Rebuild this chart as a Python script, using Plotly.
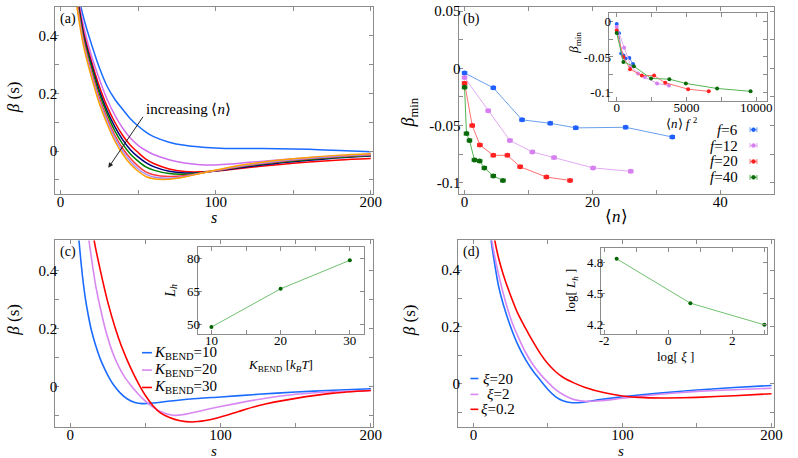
import plotly.graph_objects as go

W, H = 798, 458
SERIF = "Liberation Serif"
FRAME = "#8c8c8c"

# ---------------- panel (a) data ----------------
s_a = [10, 12, 15, 20, 25, 30, 35, 40, 45, 50, 55, 60, 70, 80, 90, 100, 110, 120, 140, 160, 180, 200]
a_blue = [0.60, 0.53, 0.46, 0.37, 0.29, 0.225, 0.18, 0.145, 0.112, 0.087, 0.066, 0.050, 0.031, 0.020, 0.014, 0.011, 0.009, 0.009, 0.008, 0.006, 0.002, -0.002]
a_violet = [0.58, 0.51, 0.43, 0.33, 0.25, 0.18, 0.125, 0.08, 0.045, 0.02, 0.002, -0.012, -0.030, -0.041, -0.047, -0.048, -0.045, -0.040, -0.031, -0.023, -0.016, -0.011]
a_red = [0.57, 0.50, 0.41, 0.31, 0.225, 0.155, 0.10, 0.055, 0.02, -0.005, -0.028, -0.043, -0.062, -0.071, -0.072, -0.069, -0.064, -0.058, -0.047, -0.038, -0.031, -0.026]
a_navy = [0.56, 0.49, 0.40, 0.30, 0.21, 0.14, 0.085, 0.04, 0.005, -0.02, -0.04, -0.054, -0.070, -0.076, -0.075, -0.069, -0.062, -0.055, -0.042, -0.032, -0.023, -0.017]
a_green = [0.55, 0.48, 0.39, 0.29, 0.20, 0.13, 0.07, 0.025, -0.01, -0.035, -0.055, -0.066, -0.078, -0.080, -0.075, -0.068, -0.060, -0.052, -0.039, -0.029, -0.021, -0.015]
a_red2 = [0.54, 0.47, 0.38, 0.275, 0.185, 0.115, 0.055, 0.01, -0.025, -0.052, -0.072, -0.082, -0.088, -0.085, -0.077, -0.068, -0.059, -0.050, -0.037, -0.027, -0.019, -0.014]
a_lviolet = [0.53, 0.46, 0.37, 0.265, 0.175, 0.105, 0.045, 0.0, -0.035, -0.062, -0.080, -0.090, -0.094, -0.088, -0.077, -0.067, -0.057, -0.048, -0.035, -0.025, -0.017, -0.012]
a_orange = [0.52, 0.45, 0.36, 0.255, 0.165, 0.095, 0.035, -0.01, -0.045, -0.070, -0.088, -0.096, -0.098, -0.090, -0.078, -0.066, -0.055, -0.046, -0.032, -0.022, -0.014, -0.009]

# ---------------- panel (b) data ----------------
f_values = [6, 12, 20, 40]
n_f6 = [0, 4.5, 9.0, 13.4, 17.4, 25.2, 32.5]
b_f6 = [-0.004, -0.017, -0.045, -0.048, -0.052, -0.0515, -0.060]
n_f12 = [0, 3.7, 7.1, 10.6, 14.0, 20.1, 26.0]
b_f12 = [-0.008, -0.037, -0.063, -0.073, -0.078, -0.087, -0.090]
n_f20 = [0, 1.2, 2.4, 4.5, 6.7, 8.7, 12.8, 16.5]
b_f20 = [-0.013, -0.050, -0.067, -0.076, -0.076, -0.086, -0.095, -0.098]
n_f40 = [0, 0.3, 0.77, 1.54, 2.36, 3.1, 4.5, 6.0]
b_f40 = [-0.0165, -0.057, -0.063, -0.080, -0.081, -0.087, -0.094, -0.098]

# ---------------- panel (c) data ----------------
s_c10 = [5, 6, 8, 10, 12, 14, 17, 20, 23, 26, 29, 33, 38, 43, 48, 55, 65, 80, 100, 125, 150, 175, 200]
c_k10 = [0.56, 0.49, 0.385, 0.305, 0.245, 0.195, 0.14, 0.095, 0.06, 0.03, 0.005, -0.02, -0.042, -0.054, -0.058, -0.056, -0.050, -0.042, -0.035, -0.026, -0.018, -0.012, -0.007]
s_c20 = [11, 12.5, 15, 17, 20, 24, 28, 32, 36, 40, 44, 48, 53, 60, 68, 76, 85, 100, 125, 150, 175, 200]
c_k20 = [0.56, 0.50, 0.41, 0.345, 0.27, 0.185, 0.12, 0.072, 0.035, 0.007, -0.018, -0.04, -0.062, -0.085, -0.098, -0.095, -0.085, -0.068, -0.044, -0.026, -0.017, -0.013]
s_c30 = [14.5, 16, 20, 25, 30, 34, 38, 42, 46, 50, 55, 60, 66, 73, 81, 90, 100, 112, 125, 150, 175, 200]
c_k30 = [0.56, 0.50, 0.40, 0.29, 0.20, 0.14, 0.09, 0.045, 0.005, -0.03, -0.065, -0.09, -0.106, -0.117, -0.121, -0.116, -0.104, -0.085, -0.065, -0.040, -0.022, -0.013]
kbend = [10, 20, 30]
lh_kbend = [49.0, 66.3, 79.2]

# ---------------- panel (d) data ----------------
s_d20 = [11, 12, 14, 17, 20, 25, 30, 35, 40, 45, 50, 55, 60, 66, 75, 85, 100, 125, 150, 175, 200]
d_xi20 = [0.55, 0.50, 0.43, 0.34, 0.28, 0.20, 0.135, 0.085, 0.045, 0.012, -0.02, -0.045, -0.06, -0.067, -0.064, -0.056, -0.046, -0.033, -0.022, -0.013, -0.006]
s_d2 = [11.5, 12.5, 15, 18, 22, 26, 30, 35, 40, 45, 50, 55, 60, 67, 75, 85, 100, 125, 150, 175, 200]
d_xi2 = [0.55, 0.50, 0.43, 0.36, 0.28, 0.215, 0.165, 0.11, 0.067, 0.033, 0.005, -0.02, -0.038, -0.055, -0.062, -0.060, -0.051, -0.037, -0.027, -0.021, -0.016]
s_d02 = [13, 14.5, 17, 20, 25, 30, 35, 40, 45, 50, 55, 60, 67, 75, 88, 100, 115, 130, 150, 175, 200]
d_xi02 = [0.56, 0.50, 0.44, 0.385, 0.31, 0.245, 0.195, 0.148, 0.105, 0.07, 0.043, 0.023, 0.004, -0.013, -0.032, -0.043, -0.049, -0.050, -0.048, -0.042, -0.035]
log_xi = [-1.61, 0.69, 3.0]
log_lh = [4.84, 4.41, 4.20]

# ---------------- tick labels ----------------
s_ticks = [0, 50, 100, 150, 200]
s_ticktext = ["0", "", "100", "", "200"]
beta_ticks = [-0.1, 0, 0.1, 0.2, 0.3, 0.4]
beta_ticktext = ["", "0", "", "0.2", "", "0.4"]
n_ticks = [0, 10, 20, 30, 40]
n_ticktext = ["0", "", "20", "", "40"]
bmin_ticks = [-0.1, -0.075, -0.05, -0.025, 0, 0.025, 0.05]
bmin_ticktext = ["-0.1", "", "-0.05", "", "0", "", "0.05"]
nf2_ticks = [0, 2500, 5000, 7500, 10000]
nf2_ticktext = ["0", "", "5000", "", "10000"]
ib_ticks = [-0.1, -0.075, -0.05, -0.025, 0]
ib_ticktext = ["-0.1", "", "-0.05", "", "0"]
kb_ticks = [10, 15, 20, 25, 30]
kb_ticktext = ["10", "", "20", "", "30"]
lh_ticks = [50, 65, 80]
lh_ticktext = ["50", "65", "80"]
lx_ticks = [-2, -1, 0, 1, 2, 3]
lx_ticktext = ["-2", "", "0", "", "2", ""]
ll_ticks = [4.2, 4.5, 4.8]
ll_ticktext = ["4.2", "4.5", "4.8"]


def px(x, y):
    return x / W, 1 - y / H


def dom_x(x0, x1):
    return [x0 / W, x1 / W]


def dom_y(top, bottom):
    return [1 - bottom / H, 1 - top / H]


def axis(domain, rng, tv, tt, anchor, size=15, standoff=-6):
    return dict(domain=domain, range=rng, anchor=anchor, showline=True, mirror="ticks",
                linecolor=FRAME, linewidth=1, ticks="inside", ticklen=4, tickcolor=FRAME,
                tickvals=tv, ticktext=tt, showgrid=False, zeroline=False,
                ticklabelstandoff=standoff,
                tickfont=dict(family=SERIF, size=size, color="black"))


fig = go.Figure()

# panel (a)
for ys, col in [(a_blue, "#1a6bff"), (a_violet, "#d070f0"), (a_red, "#ff0000"), (a_navy, "#00007f"),
                (a_green, "#007f00"), (a_red2, "#ff3b3b"), (a_lviolet, "#a98cff"), (a_orange, "#ffa000")]:
    fig.add_trace(go.Scatter(x=s_a, y=ys, mode="lines", line=dict(color=col, width=1.5, shape="spline", smoothing=0.8),
                             xaxis="x", yaxis="y", showlegend=False))

# panel (b) main
b_series = [(n_f6, b_f6, "#1f5fff", "#6aa0ea"), (n_f12, b_f12, "#d67ff0", "#e3a9f2"),
            (n_f20, b_f20, "#ff2020", "#ff7070"), (n_f40, b_f40, "#0a6a0a", "#55b455")]
for f, (nx, by, mc, lc) in zip(f_values, b_series):
    fig.add_trace(go.Scatter(x=nx, y=by, mode="lines+markers", line=dict(color=lc, width=1),
                             marker=dict(color=mc, size=5),
                             error_x=dict(type="constant", value=0.35, thickness=1, width=2, color=mc),
                             xaxis="x2", yaxis="y2", showlegend=False))
# inset (b)
for f, (nx, by, mc, lc) in zip(f_values, b_series):
    fig.add_trace(go.Scatter(x=[v * f * f for v in nx], y=by, mode="lines+markers", line=dict(color=lc, width=1),
                             marker=dict(color=mc, size=4), xaxis="x5", yaxis="y5", showlegend=False))

# panel (c)
for sx, ys, col in [(s_c10, c_k10, "#1a6bff"), (s_c20, c_k20, "#d888f0"), (s_c30, c_k30, "#ff0000")]:
    fig.add_trace(go.Scatter(x=sx, y=ys, mode="lines", line=dict(color=col, width=1.6, shape="spline", smoothing=0.6),
                             xaxis="x3", yaxis="y3", showlegend=False))
fig.add_trace(go.Scatter(x=kbend, y=lh_kbend, mode="lines+markers", line=dict(color="#70c070", width=1),
                         marker=dict(color="#006400", size=4), xaxis="x6", yaxis="y6", showlegend=False))

# panel (d)
for sx, ys, col in [(s_d20, d_xi20, "#1a6bff"), (s_d2, d_xi2, "#d888f0"), (s_d02, d_xi02, "#ff0000")]:
    fig.add_trace(go.Scatter(x=sx, y=ys, mode="lines", line=dict(color=col, width=1.6, shape="spline", smoothing=0.6),
                             xaxis="x4", yaxis="y4", showlegend=False))
fig.add_trace(go.Scatter(x=log_xi, y=log_lh, mode="lines+markers", line=dict(color="#70c070", width=1),
                         marker=dict(color="#006400", size=4), xaxis="x7", yaxis="y7", showlegend=False))

layout = dict(
    width=W, height=H, margin=dict(l=0, r=0, t=0, b=0),
    paper_bgcolor="white", plot_bgcolor="white", showlegend=False,
    xaxis=axis(dom_x(54, 376), [-3.4, 201.3], s_ticks, s_ticktext, "y"),
    yaxis=axis(dom_y(4, 192), [-0.148, 0.5], beta_ticks, beta_ticktext, "x"),
    xaxis2=axis(dom_x(463, 782.7), [-0.93, 48.4], n_ticks, n_ticktext, "y2"),
    yaxis2=axis(dom_y(4, 192), [-0.1096, 0.0537], bmin_ticks, bmin_ticktext, "x2"),
    xaxis3=axis(dom_x(54, 376), [-10, 201.3], s_ticks, s_ticktext, "y3"),
    yaxis3=axis(dom_y(239, 427), [-0.139, 0.503], beta_ticks, beta_ticktext, "x3"),
    xaxis4=axis(dom_x(462.3, 782.7), [-10.4, 201.6], s_ticks, s_ticktext, "y4"),
    yaxis4=axis(dom_y(239, 427), [-0.153, 0.5045], beta_ticks, beta_ticktext, "x4"),
    xaxis5=axis(dom_x(615, 776), [-587, 10800], nf2_ticks, nf2_ticktext, "y5", 13),
    yaxis5=axis(dom_y(10, 99), [-0.112, 0.0115], ib_ticks, ib_ticktext, "x5", 13),
    xaxis6=axis(dom_x(198.3, 366.7), [8, 32], kb_ticks, kb_ticktext, "y6", 13),
    yaxis6=axis(dom_y(245.7, 333.3), [45.8, 85.2], lh_ticks, lh_ticktext, "x6", 13),
    xaxis7=axis(dom_x(607.3, 776), [-2.1, 3.09], lx_ticks, lx_ticktext, "y7", 13),
    yaxis7=axis(dom_y(246.7, 333.3), [4.11, 4.944], ll_ticks, ll_ticktext, "x7", 13),
)
fig.update_layout(**layout)

ann = []


def txt(x, y, text, size=15, angle=0, xanchor="center", color="black"):
    px_, py_ = px(x, y)
    ann.append(dict(x=px_, y=py_, xref="paper", yref="paper", text=text, showarrow=False,
                    font=dict(family=SERIF, size=size, color=color), textangle=angle,
                    xanchor=xanchor, yanchor="middle"))


# panel labels
txt(57, 16, "(a)", 14, xanchor="left")
txt(465, 16, "(b)", 14, xanchor="left")
txt(57, 251, "(c)", 14, xanchor="left")
txt(465, 251, "(d)", 14, xanchor="left")
# axis titles
txt(12, 95, "<i>β</i> (s)", 17, -90)
txt(215, 216, "<i>s</i>", 16)
txt(413, 110, "<i>β</i><sub>min</sub>", 18, -90)
txt(623, 215, "⟨<i>n</i>⟩", 17)
txt(12, 319, "<i>β</i> (s)", 17, -90)
txt(215, 451, "<i>s</i>", 15)
txt(414, 319, "<i>β</i> (s)", 17, -90)
txt(628, 451, "<i>s</i>", 15)
# inset titles
txt(581, 40, "<i>β</i><sub>min</sub>", 13, -90)
txt(690, 121, "⟨<i>n</i>⟩ <i>f</i> <sup>2</sup>", 13)
txt(171, 290, "<i>L<sub>h</sub></i>", 14, -90)
txt(282, 365, "<i>K</i><sub>BEND</sub> [<i>k<sub>B</sub>T</i>]", 13)
txt(577, 289, "log[ <i>L<sub>h</sub></i> ]", 13, -90)
txt(683, 356, "log[ <i>ξ</i> ]", 13)
# (a) arrow annotation
ann.append(dict(x=30.8, y=-0.058, ax=53.8, ay=0.124, xref="x", yref="y", axref="x", ayref="y",
                text="", showarrow=True, arrowhead=2, arrowsize=1, arrowwidth=1, arrowcolor="#222"))
ann.append(dict(x=53.5, y=0.147, xref="x", yref="y", text="increasing ⟨<i>n</i>⟩", showarrow=False,
                xanchor="left", yanchor="middle", font=dict(family=SERIF, size=15, color="black")))

shapes = []
# (b) legend
leg_b_rows = [127.5, 143.5, 159.5, 175.5]
for f, (nx, by, mc, lc), yy in zip(f_values, b_series, leg_b_rows):
    txt(748, yy, f"<i>f</i>={f}", 15, xanchor="right")
    x0, y0 = px(758.5, yy)
    x1, _ = px(765.5, yy)
    shapes.append(dict(type="line", xref="paper", yref="paper", x0=x0, x1=x1, y0=y0, y1=y0,
                       line=dict(color=lc, width=1)))
    for cx in (758.5, 765.5):
        a0 = px(cx, yy - 2.5)
        a1 = px(cx, yy + 2.5)
        shapes.append(dict(type="line", xref="paper", yref="paper", x0=a0[0], x1=a1[0], y0=a0[1], y1=a1[1],
                           line=dict(color=lc, width=1)))
    c0 = px(760, yy - 2)
    c1 = px(764, yy + 2)
    shapes.append(dict(type="circle", xref="paper", yref="paper", x0=c0[0], x1=c1[0], y0=c1[1], y1=c0[1],
                       fillcolor=mc, line=dict(color=mc, width=0.5)))

# (c) legend
for lab, col, yy in [("=10", "#1a6bff", 352), ("=20", "#d888f0", 369.5), ("=30", "#ff0000", 387)]:
    a0 = px(142, yy)
    a1 = px(152, yy)
    shapes.append(dict(type="line", xref="paper", yref="paper", x0=a0[0], x1=a1[0], y0=a0[1], y1=a1[1],
                       line=dict(color=col, width=1.6)))
    txt(152, yy, f"<i>K</i><sub>BEND</sub>{lab}", 15, xanchor="left")

# (d) legend
for lab, col, yy in [("<i>ξ</i>=20", "#1a6bff", 378), ("<i>ξ</i>=2", "#d888f0", 394), ("<i>ξ</i>=0.2", "#ff0000", 409)]:
    a0 = px(475, yy)
    a1 = px(483, yy)
    shapes.append(dict(type="line", xref="paper", yref="paper", x0=a0[0], x1=a1[0], y0=a0[1], y1=a1[1],
                       line=dict(color=col, width=1.6)))
    txt(503, yy, lab, 15)

fig.update_layout(annotations=ann, shapes=shapes)
fig.write_html("out.html", config={"displayModeBar": False},
               post_script="document.body.style.margin='0';document.body.style.padding='0';")
